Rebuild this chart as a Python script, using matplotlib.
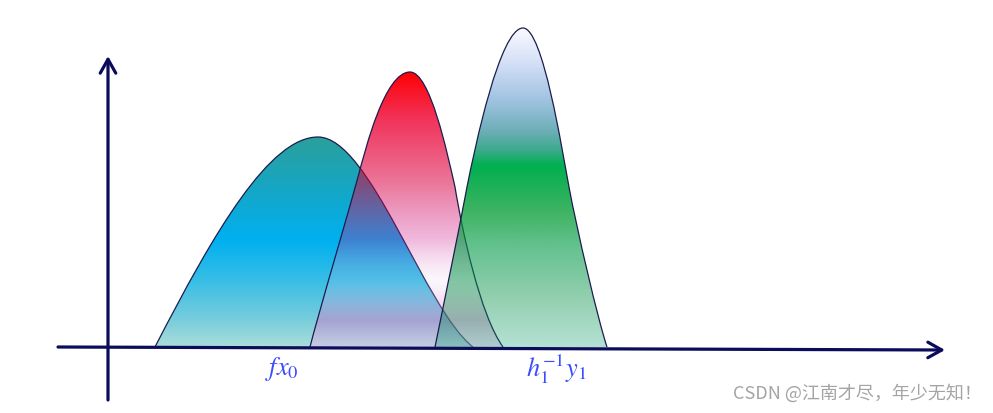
import numpy as np
import matplotlib
matplotlib.use("Agg")
import matplotlib.pyplot as plt
from matplotlib.path import Path
from matplotlib.patches import PathPatch

# bezier control points of each hump (x, height); start, c, c, point, c, c, point ...
blue_x = [47, 107, 162, 210, 262, 317, 365]
blue_y = [0, 117, 210, 210, 210, 37, 0]

red_x = [202, 210, 242, 250, 258, 277, 302, 322, 339, 347, 354, 372, 395]
red_y = [0, 32, 140, 170, 200, 275, 275, 275, 195, 160, 117, 32, 0]

green_x = [327, 338, 349, 359, 367, 392, 415, 435, 454, 461, 469, 490, 499]
green_y = [0, 54, 107, 160, 200, 319, 319, 319, 197, 160, 117, 27, 0]

labels = ["$fx_0$", "$h_1^{-1}y_1$"]
label_x = [174, 448]

# gradient stops: height, rgb, alpha
blue_grad = [(210, (42, 160, 155), 1), (167, (25, 165, 190), 1), (107, (0, 176, 240), 1),
             (67, (55, 190, 230), 1), (27, (120, 205, 220), 1), (0, (170, 222, 218), 1)]
red_grad = [(275, (255, 0, 0), 1), (227, (239, 0, 49), 0.8), (167, (219, 0, 64), 0.55),
            (107, (205, 22, 138), 0.3), (67, (230, 200, 240), 0.15),
            (27, (221, 111, 198), 0.45), (0, (240, 182, 240), 0.4)]
green_grad = [(319, (250, 250, 255), 1), (287, (215, 225, 248), 1), (247, (160, 195, 225), 1),
              (217, (110, 175, 185), 1), (197, (60, 170, 140), 1), (182, (0, 176, 80), 1),
              (134, (0, 155, 48), 0.75), (97, (0, 155, 72), 0.6),
              (47, (0, 142, 68), 0.42), (0, (0, 155, 105), 0.3)]

navy = "#0c0c5c"

fig = plt.figure(figsize=(9.93, 4.13), dpi=100)
ax = fig.add_axes([0, 0, 1, 1])
ax.set_xlim(-108, 885)
ax.set_ylim(-66, 347)
ax.axis("off")


def hump(xs, ys, grad, z):
    pts = list(zip(xs, ys))
    codes = [Path.MOVETO] + [Path.CURVE4] * (len(pts) - 1)
    pts.append(pts[0])
    codes.append(Path.CLOSEPOLY)
    path = Path(pts, codes)
    clip = PathPatch(path, facecolor="none", edgecolor="none")
    ax.add_patch(clip)
    top = max(ys)
    hh = np.linspace(0, top, 400)
    g = sorted(grad)
    gy = [s[0] for s in g]
    img = np.zeros((len(hh), 1, 4))
    for k in range(3):
        img[:, 0, k] = np.interp(hh, gy, [s[1][k] / 255 for s in g])
    img[:, 0, 3] = np.interp(hh, gy, [s[2] for s in g])
    im = ax.imshow(img, extent=[min(xs), max(xs), 0, top], origin="lower",
                   aspect="auto", interpolation="bilinear", zorder=z)
    im.set_clip_path(clip)
    # outline, without the bottom edge
    line = Path(pts[:-1], codes[:-1])
    ax.add_patch(PathPatch(line, facecolor="none", edgecolor="#1c1c4e", lw=0.9, zorder=z + 0.1))


hump(blue_x, blue_y, blue_grad, 1)
hump(red_x, red_y, red_grad, 2)
hump(green_x, green_y, green_grad, 3)

# axes with arrows
arr = dict(arrowstyle="->,head_length=0.5,head_width=0.28", color=navy, lw=2.3,
           mutation_scale=20, shrinkA=0, shrinkB=0)
ax.annotate("", xy=(837, -3), xytext=(-50, 0), arrowprops=arr, zorder=5)
ax.annotate("", xy=(0, 291), xytext=(0, -53), arrowprops=arr, zorder=5)

plt.rcParams["mathtext.fontset"] = "stix"
for lab, lx in zip(labels, label_x):
    ax.text(lx, -22, lab, fontsize=19, color="#3c4cff", ha="center", va="center")

ax.text(874, -46, "CSDN @江南才尽，年少无知！", fontsize=13, color="#a4a4a4",
        ha="right", va="center", family=["Noto Sans CJK SC", "DejaVu Sans"])

fig.savefig("out.png", dpi=100)
